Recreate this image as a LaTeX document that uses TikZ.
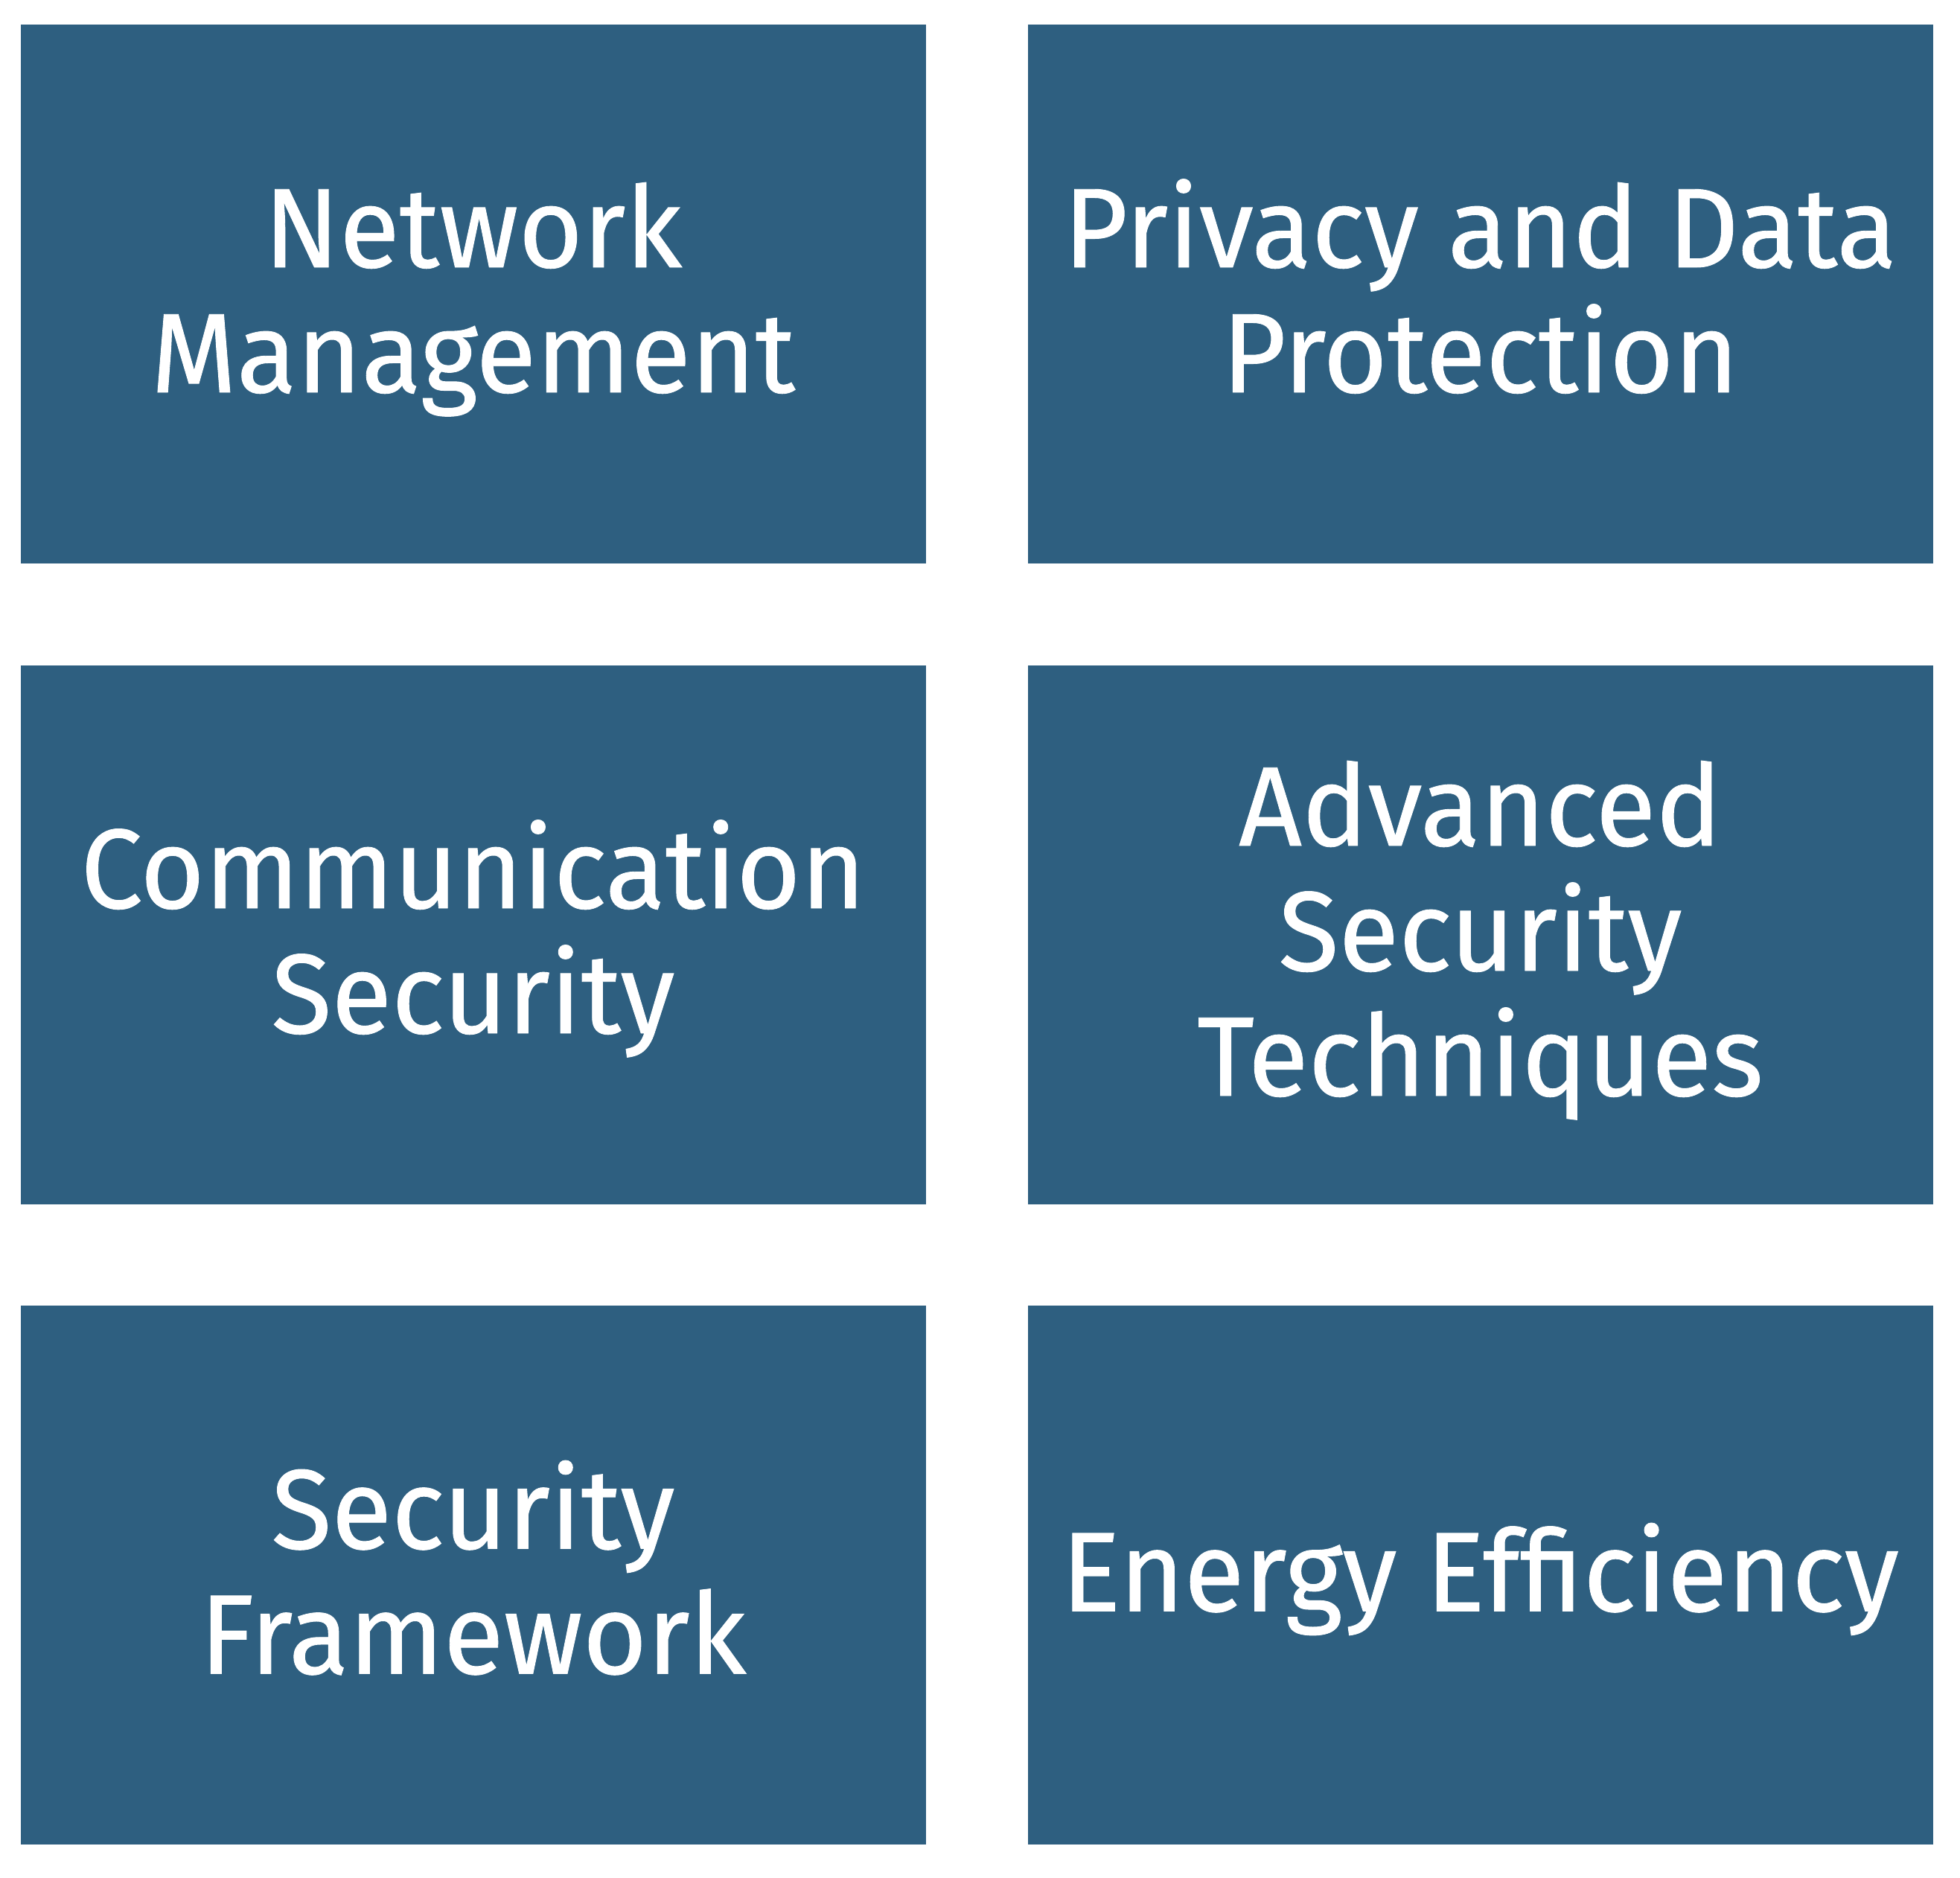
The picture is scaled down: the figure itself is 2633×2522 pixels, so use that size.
\documentclass[tikz,border=0pt]{standalone}
\usepackage{fontspec}
\setmainfont{Fira Sans}[FakeStretch=0.975,FakeBold=0.6]
\definecolor{boxblue}{RGB}{46,95,128}
\newcommand\TopStrut{\rule{0pt}{141pt}}
\newcommand\BotStrut{\rule[-44pt]{0pt}{44pt}}
\begin{document}
\begin{tikzpicture}[x=1pt,y=-1pt,
  tile/.style={fill=boxblue, draw=none, minimum width=1216pt, minimum height=724pt,
    inner sep=0pt, align=center, text=white,
    font=\fontsize{152}{168}\selectfont}]
\useasboundingbox[fill=white] (0,0) rectangle (2633,2522);
\node[tile] (nm) at (635.5,394.5) {\TopStrut Network\\Management\BotStrut};
\node[tile] (pd) at (1988.5,394.5) {\TopStrut Privacy and Data\\Protection\BotStrut};
\node[tile] (cs) at (635.5,1255.5) {\TopStrut Communication\\Security\BotStrut};
\node[tile] (as) at (1988.5,1255.5) {\TopStrut Advanced\\Security\\Techniques\BotStrut};
\node[tile] (sf) at (635.5,2116) {\TopStrut Security\\Framework\BotStrut};
\node[tile] (ee) at (1988.5,2116) {\TopStrut Energy Efficiency\BotStrut};
\end{tikzpicture}
\end{document}
